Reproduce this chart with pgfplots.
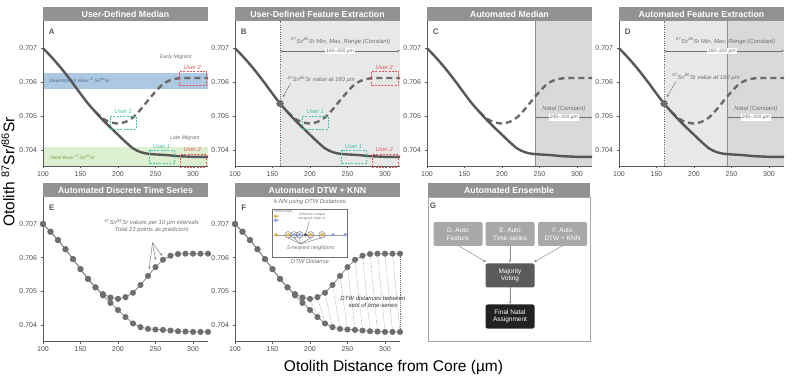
\documentclass[border=0pt]{standalone}
\usepackage{fontspec}
\setmainfont{Liberation Sans}
\usepackage{pgfplots}
\pgfplotsset{compat=1.18}
\usepackage{pgfplotstable}
\usetikzlibrary{arrows.meta}

\definecolor{hdr}{HTML}{929292}
\definecolor{axgray}{HTML}{5A5A5A}
\definecolor{tickgray}{HTML}{4D4D4D}
\definecolor{linegray}{HTML}{575757}
\definecolor{dashgray}{HTML}{6A6A6A}
\definecolor{ptgray}{HTML}{6E6E6E}
\definecolor{anngray}{HTML}{707070}
\definecolor{shadeL}{HTML}{E8E8E8}
\definecolor{shadeD}{HTML}{D9D9D9}
\definecolor{bandblue}{HTML}{ADC8E2}
\definecolor{txtblue}{HTML}{3E6B9A}
\definecolor{bandgreen}{HTML}{DDEFD1}
\definecolor{txtgreen}{HTML}{7A9A3A}
\definecolor{ucyan}{HTML}{3FC6B2}
\definecolor{ured}{HTML}{E8585A}
\definecolor{ayellow}{HTML}{E2B43C}
\definecolor{bblue}{HTML}{8FA2E6}
\definecolor{boxtop}{HTML}{A8A8A8}
\definecolor{boxmid}{HTML}{5B5B5B}
\definecolor{boxbot}{HTML}{222222}

\pgfplotstableread{
x late early
100 0.70700 0.70700
110 0.70677 0.70677
120 0.70652 0.70652
130 0.70625 0.70625
140 0.70596 0.70596
150 0.70566 0.70566
160 0.70537 0.70537
170 0.70512 0.70512
180 0.70488 0.70492
190 0.70466 0.70482
200 0.70445 0.70478
210 0.70424 0.70483
220 0.70405 0.70496
230 0.70394 0.70519
240 0.70389 0.70546
250 0.70387 0.70572
260 0.70386 0.70594
270 0.70384 0.70606
280 0.70382 0.70611
290 0.70381 0.70612
300 0.70380 0.70612
310 0.70380 0.70612
320 0.70380 0.70612
}\sr

\newcommand{\iso}{\textsuperscript{87}Sr/\textsuperscript{86}Sr}
\tikzset{
  ann/.style={font=\itshape\fontsize{5.9}{6.7}\selectfont, text=anngray, inner sep=0.6pt},
  rng/.style={font=\itshape\fontsize{5}{5.6}\selectfont, text=anngray, fill=white, inner sep=0.8pt},
  usr/.style={font=\itshape\fontsize{5.8}{6.5}\selectfont, inner sep=0.5pt},
  smallarrow/.style={-{Stealth[length=2.5pt,width=2pt]}, draw=anngray, line width=0.4pt},
  dblarrow/.style={{Stealth[length=2.5pt,width=2pt]}-{Stealth[length=2.5pt,width=2pt]}, draw=anngray, line width=0.4pt},
  plabel/.style={font=\bfseries\fontsize{8}{9}\selectfont, text=axgray},
  hdrtext/.style={text=white, font=\bfseries\fontsize{8.8}{10}\selectfont, inner sep=0pt},
  fbox/.style={rounded corners=2pt, minimum width=49pt, minimum height=24pt, align=center, text=white, font=\fontsize{6.5}{7.6}\selectfont, inner sep=1pt},
}
\pgfplotsset{
  panel/.style={
    scale only axis, width=165pt, height=145pt,
    xmin=100, xmax=320, ymin=0.70353, ymax=0.7078,
    axis lines=left, axis line style={-, draw=axgray, line width=0.6pt},
    xtick={100,150,200,250,300}, xticklabels={100,150,200,250,300},
    ytick={0.704,0.705,0.706,0.707}, yticklabels={0.704,0.705,0.706,0.707},
    tick style={draw=axgray, line width=0.5pt}, tick align=outside,
    major tick length=2.5pt,
    tick label style={font=\fontsize{7}{8}\selectfont, text=tickgray},
    scaled ticks=false, clip=false, axis on top,
    /pgf/number format/assume math mode=true,
  },
  solidline/.style={draw=linegray, line width=2.4pt, smooth, tension=0.5, mark=none},
  dashline/.style={draw=dashgray, line width=2.4pt, smooth, tension=0.5, mark=none, dash pattern=on 6pt off 4pt, restrict x to domain=170:320},
  pts/.style={draw=ptgray, line width=0.6pt, mark=*, mark size=2.7pt, mark options={fill=ptgray, draw=ptgray, solid}},
  cybox/.style={draw=ucyan, line width=0.6pt, dash pattern=on 2pt off 1.3pt, mark=none},
  rdbox/.style={draw=ured, line width=0.6pt, dash pattern=on 2pt off 1.3pt, mark=none},
  dtw/.style={draw=anngray, line width=0.45pt, dash pattern=on 0.6pt off 1.3pt, mark=none},
}

\begin{document}
\begin{tikzpicture}[x=1pt,y=1pt]
\path[use as bounding box] (0,0) rectangle (792,375);

% ================= A =================
\begin{axis}[panel, at={(43pt,209pt)}, anchor=south west]
\addplot[fill=bandblue, draw=none] coordinates {(100,0.70580) (320,0.70580) (320,0.70628) (100,0.70628)} -- cycle;
\addplot[fill=bandgreen, draw=none] coordinates {(100,0.70353) (320,0.70353) (320,0.70409) (100,0.70409)} -- cycle;
\node[anchor=west, font=\itshape\fontsize{4.8}{5.4}\selectfont, text=txtblue] at (axis cs:104,0.70604) {Downstream River \iso};
\node[anchor=west, font=\itshape\fontsize{4.8}{5.4}\selectfont, text=txtgreen] at (axis cs:105,0.70379) {Natal River \iso};
\addplot[dashline] table[x=x,y=early] {\sr};
\addplot[solidline] table[x=x,y=late] {\sr};
\node[ann, font=\itshape\fontsize{5.3}{6}\selectfont] at (axis cs:277,0.70673) {Early Migrant};
\node[ann, font=\itshape\fontsize{5.3}{6}\selectfont] at (axis cs:289,0.70436) {Late Migrant};
\addplot[cybox] coordinates {(190,0.70461) (224,0.70461) (224,0.70500) (190,0.70500)} -- cycle;
\node[usr, text=ucyan] at (axis cs:207,0.70513) {User 1};
\addplot[rdbox] coordinates {(282,0.70590) (318,0.70590) (318,0.70633) (282,0.70633)} -- cycle;
\node[usr, text=ured] at (axis cs:299,0.70643) {User 2};
\addplot[cybox] coordinates {(242,0.70361) (275,0.70361) (275,0.70400) (242,0.70400)} -- cycle;
\node[usr, text=ucyan] at (axis cs:258,0.70411) {User 1};
\addplot[rdbox] coordinates {(283,0.70350) (318,0.70350) (318,0.70388) (283,0.70388)} -- cycle;
\node[usr, text=ured] at (axis cs:299,0.70401) {User 2};
\node[plabel] at (rel axis cs:0.053,0.924) {A};
\end{axis}
\fill[hdr] (43,354) rectangle (208,368);
\node[hdrtext] at (125.5,361) {User-Defined Median};

% ================= B =================
\begin{axis}[panel, at={(235pt,209pt)}, anchor=south west]
\addplot[fill=shadeL, draw=none] coordinates {(160,0.70353) (320,0.70353) (320,0.7078) (160,0.7078)} -- cycle;
\addplot[draw=anngray, line width=0.5pt, dash pattern=on 1pt off 1.3pt, mark=none] coordinates {(160,0.70353) (160,0.7078)};
\node[ann] at (axis cs:241,0.70720) {\iso{} Min, Max, Range (Constant)};
\draw[dblarrow] (axis cs:160,0.70692) -- (axis cs:320,0.70692);
\node[rng] at (axis cs:240,0.70692) {160–320 µm};
\addplot[dashline] table[x=x,y=early] {\sr};
\addplot[solidline] table[x=x,y=late] {\sr};
\node[ann, anchor=west] at (axis cs:169,0.70607) {\iso{} value at 160 µm};
\draw[smallarrow] (axis cs:174,0.70596) -- (axis cs:164,0.70556);
\addplot[only marks, mark=*, mark size=3.4pt, mark options={fill=ptgray, draw=ptgray}] coordinates {(160,0.70537)};
\addplot[cybox] coordinates {(190,0.70461) (224,0.70461) (224,0.70500) (190,0.70500)} -- cycle;
\node[usr, text=ucyan] at (axis cs:207,0.70513) {User 1};
\addplot[rdbox] coordinates {(282,0.70590) (318,0.70590) (318,0.70633) (282,0.70633)} -- cycle;
\node[usr, text=ured] at (axis cs:299,0.70643) {User 2};
\addplot[cybox] coordinates {(242,0.70361) (275,0.70361) (275,0.70400) (242,0.70400)} -- cycle;
\node[usr, text=ucyan] at (axis cs:258,0.70411) {User 1};
\addplot[rdbox] coordinates {(283,0.70350) (318,0.70350) (318,0.70388) (283,0.70388)} -- cycle;
\node[usr, text=ured] at (axis cs:299,0.70401) {User 2};
\node[plabel] at (rel axis cs:0.053,0.924) {B};
\end{axis}
\fill[hdr] (235,354) rectangle (400,368);
\node[hdrtext] at (317.5,361) {User-Defined Feature Extraction};

% ================= C =================
\begin{axis}[panel, at={(427pt,209pt)}, anchor=south west]
\addplot[fill=shadeD, draw=none] coordinates {(245,0.70353) (320,0.70353) (320,0.7078) (245,0.7078)} -- cycle;
\addplot[draw=anngray!80, line width=0.6pt, mark=none] coordinates {(245,0.70353) (245,0.7078)};
\addplot[dashline] table[x=x,y=early] {\sr};
\addplot[solidline] table[x=x,y=late] {\sr};
\node[ann] at (axis cs:282.5,0.70522) {Natal (Constant)};
\draw[dblarrow] (axis cs:245,0.70496) -- (axis cs:320,0.70496);
\node[rng] at (axis cs:282.5,0.70496) {245–320 µm};
\node[plabel] at (rel axis cs:0.053,0.924) {C};
\end{axis}
\fill[hdr] (427,354) rectangle (592,368);
\node[hdrtext] at (509.5,361) {Automated Median};

% ================= D =================
\begin{axis}[panel, at={(619pt,209pt)}, anchor=south west]
\addplot[fill=shadeL, draw=none] coordinates {(160,0.70353) (245,0.70353) (245,0.7078) (160,0.7078)} -- cycle;
\addplot[fill=shadeD, draw=none] coordinates {(245,0.70353) (320,0.70353) (320,0.7078) (245,0.7078)} -- cycle;
\addplot[draw=anngray, line width=0.5pt, dash pattern=on 1pt off 1.3pt, mark=none] coordinates {(160,0.70353) (160,0.7078)};
\addplot[draw=anngray!80, line width=0.6pt, mark=none] coordinates {(245,0.70353) (245,0.7078)};
\node[ann] at (axis cs:242,0.70720) {\iso{} Min, Max, Range (Constant)};
\draw[dblarrow] (axis cs:160,0.70692) -- (axis cs:320,0.70692);
\node[rng] at (axis cs:237,0.70692) {160–320 µm};
\addplot[dashline] table[x=x,y=early] {\sr};
\addplot[solidline] table[x=x,y=late] {\sr};
\node[ann, anchor=west] at (axis cs:170,0.70614) {\iso{} value at 160 µm};
\draw[smallarrow] (axis cs:176,0.70602) -- (axis cs:164,0.70556);
\addplot[only marks, mark=*, mark size=3.4pt, mark options={fill=ptgray, draw=ptgray}] coordinates {(160,0.70537)};
\node[ann] at (axis cs:282.5,0.70522) {Natal (Constant)};
\draw[dblarrow] (axis cs:245,0.70496) -- (axis cs:320,0.70496);
\node[rng] at (axis cs:282.5,0.70496) {245–320 µm};
\node[plabel] at (rel axis cs:0.053,0.924) {D};
\end{axis}
\fill[hdr] (619,354) rectangle (784,368);
\node[hdrtext] at (701.5,361) {Automated Feature Extraction};

% ================= E =================
\begin{axis}[panel, height=144pt, at={(43pt,34pt)}, anchor=south west]
\addplot[pts] table[x=x,y=early] {\sr};
\addplot[pts] table[x=x,y=late] {\sr};
\node[ann, align=center] at (axis cs:245,0.70694) {\iso{} values per 10 µm intervals\\Total 23 points as predictors};
\draw[smallarrow] (axis cs:246,0.70645) -- (axis cs:241.5,0.70566);
\draw[smallarrow] (axis cs:246,0.70645) -- (axis cs:250,0.70594);
\draw[smallarrow] (axis cs:246,0.70645) -- (axis cs:258.5,0.70606);
\node[plabel] at (rel axis cs:0.053,0.924) {E};
\end{axis}
\fill[hdr] (43,178) rectangle (208,192);
\node[hdrtext] at (125.5,185) {Automated Discrete Time Series};

% ================= F =================
\begin{axis}[panel, height=144pt, at={(235pt,34pt)}, anchor=south west]
\addplot[dtw] coordinates {(190,0.70482) (200,0.70445)};
\addplot[dtw] coordinates {(200,0.70478) (210,0.70424)};
\addplot[dtw] coordinates {(210,0.70483) (220,0.70405)};
\addplot[dtw] coordinates {(220,0.70496) (230,0.70394)};
\addplot[dtw] coordinates {(230,0.70519) (240,0.70389)};
\addplot[dtw] coordinates {(240,0.70546) (250,0.70387)};
\addplot[dtw] coordinates {(250,0.70572) (260,0.70386)};
\addplot[dtw] coordinates {(260,0.70594) (270,0.70384)};
\addplot[dtw] coordinates {(270,0.70606) (280,0.70382)};
\addplot[dtw] coordinates {(280,0.70611) (290,0.70381)};
\addplot[dtw] coordinates {(290,0.70612) (300,0.70380)};
\addplot[dtw] coordinates {(300,0.70612) (310,0.70380)};
\addplot[dtw] coordinates {(310,0.70612) (320,0.70380)};
\addplot[dtw] coordinates {(320,0.70612) (320,0.70380)};
\addplot[pts] table[x=x,y=early] {\sr};
\addplot[pts] table[x=x,y=late] {\sr};
\node[font=\itshape\fontsize{6}{7}\selectfont, text=black!80, align=center] at (axis cs:284,0.70468) {DTW distances between\\sets of time-series};
% inset
\addplot[fill=white, draw=anngray, line width=0.6pt, mark=none] coordinates {(150,0.70601) (250,0.70601) (250,0.70744) (150,0.70744)} -- cycle;
\node[ann] at (axis cs:200,0.70765) {k-NN using DTW Distances};
\node[ann] at (axis cs:200,0.70588) {DTW Distance};
\node[anchor=west, font=\fontsize{3.4}{4}\selectfont, text=anngray, inner sep=0pt] at (axis cs:152.5,0.70736) {Natal Origin};
\node[anchor=west, font=\fontsize{3.4}{4}\selectfont, text=anngray, inner sep=0pt] at (axis cs:156,0.70723) {a};
\node[anchor=west, font=\fontsize{3.4}{4}\selectfont, text=anngray, inner sep=0pt] at (axis cs:156,0.70711) {b};
\addplot[only marks, mark=*, mark size=1.5pt, mark options={fill=ayellow, draw=ayellow}] coordinates {(154,0.70723)};
\addplot[only marks, mark=*, mark size=1.5pt, mark options={fill=bblue, draw=bblue}] coordinates {(154,0.70711)};
\addplot[draw=anngray!70, line width=0.5pt, mark=none] coordinates {(152,0.70668) (248,0.70668)};
\addplot[draw=anngray, line width=0.4pt, mark=none] coordinates {(187,0.70641) (170.7,0.70659)};
\addplot[draw=anngray, line width=0.4pt, mark=none] coordinates {(187,0.70641) (178.7,0.70659)};
\addplot[draw=anngray, line width=0.4pt, mark=none] coordinates {(187,0.70641) (186.2,0.70659)};
\addplot[draw=anngray, line width=0.4pt, mark=none] coordinates {(187,0.70641) (201,0.70659)};
\addplot[draw=anngray, line width=0.4pt, mark=none] coordinates {(187,0.70641) (216,0.70659)};
\addplot[draw=anngray, line width=0.4pt, mark=none] coordinates {(199,0.70708) (194.5,0.70673)};
\addplot[only marks, mark=*, mark size=1.5pt, mark options={fill=ayellow, draw=ayellow}] coordinates {(155,0.70668) (170.7,0.70668) (201,0.70668) (216,0.70668)};
\addplot[only marks, mark=*, mark size=1.5pt, mark options={fill=bblue, draw=bblue}] coordinates {(178.7,0.70668) (186.2,0.70668) (230.7,0.70668) (247,0.70668)};
\addplot[only marks, mark=*, mark size=1.5pt, mark options={fill=boxmid, draw=boxmid}] coordinates {(193.8,0.70668)};
\addplot[only marks, mark=o, mark size=3.2pt, mark options={draw=anngray, line width=0.45pt}] coordinates {(170.7,0.70668) (178.7,0.70668) (186.2,0.70668) (201,0.70668) (216,0.70668)};
\node[font=\fontsize{3.4}{4}\selectfont, text=anngray, align=center, inner sep=0pt] at (axis cs:203,0.70721) {Unknown sample\\assigned origin 'a'};
\node[ann, font=\itshape\fontsize{5.3}{6}\selectfont] at (axis cs:201,0.70629) {5-nearest neighbors};
\node[plabel] at (rel axis cs:0.053,0.924) {F};
\end{axis}
\fill[hdr] (235,178) rectangle (400,192);
\node[hdrtext] at (317.5,185) {Automated DTW + KNN};

% ================= G =================
\begin{axis}[at={(428pt,34pt)}, anchor=south west, scale only axis, width=162pt, height=144pt,
  xmin=0, xmax=162, ymin=0, ymax=144, ticks=none, clip=false,
  axis line style={draw=black!35, line width=0.6pt}]
\node[fbox, fill=boxtop] at (axis cs:30,107) {D. Auto\\Feature};
\node[fbox, fill=boxtop] at (axis cs:82,107) {E. Auto\\Time-series};
\node[fbox, fill=boxtop] at (axis cs:134.5,107) {F. Auto\\DTW + KNN};
\node[fbox, fill=boxmid] at (axis cs:82,65.5) {Majority\\Voting};
\node[fbox, fill=boxbot] at (axis cs:82,24.5) {Final Natal\\Assignment};
\draw[-{Stealth[length=3pt,width=2.6pt]}, draw=anngray!80, line width=0.5pt] (axis cs:31,95) -- (axis cs:58,79);
\draw[-{Stealth[length=3pt,width=2.6pt]}, draw=anngray!80, line width=0.5pt] (axis cs:82,95) -- (axis cs:82,78.5);
\draw[-{Stealth[length=3pt,width=2.6pt]}, draw=anngray!80, line width=0.5pt] (axis cs:134,95) -- (axis cs:106,79);
\draw[-{Stealth[length=3pt,width=2.6pt]}, draw=anngray!80, line width=0.5pt] (axis cs:82,53.5) -- (axis cs:82,37);
\node[plabel] at (axis cs:5,135) {G};
\end{axis}
\fill[hdr] (428,178) rectangle (590,192);
\node[hdrtext] at (509,185) {Automated Ensemble};

% axis titles
\node[rotate=90, font=\fontsize{15.5}{17}\selectfont] at (8,203) {Otolith \iso};
\node[font=\fontsize{15.5}{17}\selectfont] at (393.5,8) {Otolith Distance from Core (µm)};
\end{tikzpicture}
\end{document}
